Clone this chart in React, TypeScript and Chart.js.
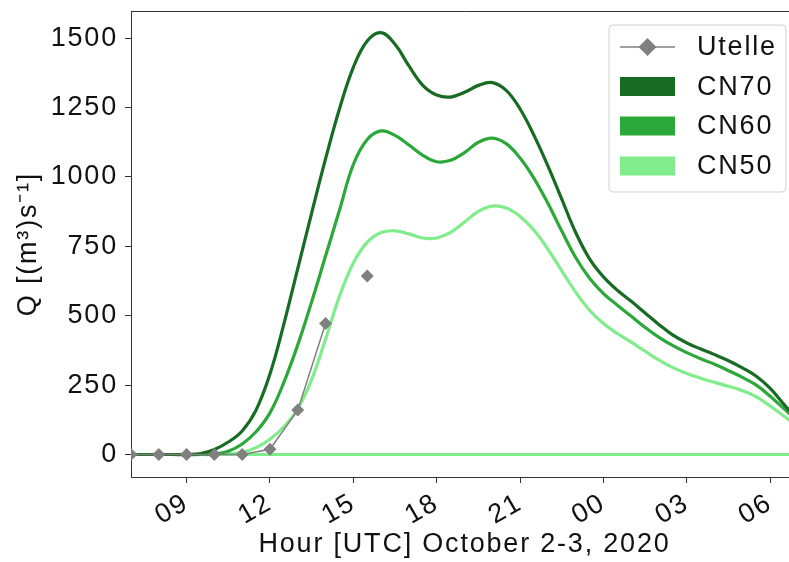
import React, { useEffect, useRef } from 'react';
import { Chart, registerables } from 'chart.js';

Chart.register(...registerables);

// ---- data ----
const HOURS = [7, 7.5, 8, 8.5, 9, 9.5, 10, 10.5, 11, 11.5, 12, 12.5, 13, 13.5, 14, 14.5, 15, 15.5, 16, 16.5, 17, 17.5, 18, 18.5, 19, 19.5, 20, 20.5, 21, 21.5, 22, 22.5, 23, 23.5, 24, 24.5, 25, 25.5, 26, 26.5, 27, 27.5, 28, 28.5, 29, 29.5, 30, 30.5, 31];
const CN70 = [0, 0, 0, 0, 0, 3, 18, 45, 85, 160, 290, 470, 670, 870, 1065, 1245, 1395, 1490, 1520, 1478, 1400, 1330, 1295, 1288, 1305, 1330, 1340, 1312, 1245, 1150, 1040, 920, 800, 705, 640, 592, 552, 510, 468, 430, 402, 380, 360, 338, 312, 282, 238, 180, 120];
const CN60 = [0, 0, 0, 0, 0, 0, 2, 12, 38, 82, 150, 260, 395, 550, 715, 880, 1045, 1135, 1166, 1150, 1115, 1078, 1055, 1060, 1088, 1125, 1140, 1120, 1068, 995, 905, 805, 710, 635, 580, 538, 498, 458, 422, 392, 367, 345, 325, 302, 278, 250, 210, 165, 120];
const CN50 = [0, 0, 0, 0, 0, 0, 0, 2, 8, 25, 55, 100, 165, 270, 415, 570, 690, 765, 800, 806, 795, 780, 780, 800, 838, 876, 895, 888, 858, 808, 740, 662, 585, 520, 472, 436, 405, 372, 340, 313, 292, 275, 260, 246, 230, 208, 175, 138, 100];
const UTELLE_HOURS = [7, 8, 9, 10, 11, 12, 13, 14, 15, 15.5];
const UTELLE = [0, 0, 0, 0, 0, 19, 160, 472, null, 643];
const ZERO_HOURS = [7, 31];
const ZERO_LINE = [0, 0];
const X_TICKS = [9, 12, 15, 18, 21, 24, 27, 30];
const Y_TICKS = [0, 250, 500, 750, 1000, 1250, 1500];
const SERIES_NAMES = ['Utelle', 'CN70', 'CN60', 'CN50'];
const X_TITLE = 'Hour [UTC] October 2-3, 2020';
const Y_TITLE = 'Q [(m\u00B3)s\u207B\u00B9]';

const C70 = '#186b22';
const C60 = '#2ca83a';
const C50 = '#80ec8b';
const CGRAY = '#808080';
const FONT = '"Liberation Sans", Arial, sans-serif';
const FSIZE = 27;
const SPACING = '1.8px';

const toXY = (xs: number[], ys: (number | null)[]) => xs.map((x, i) => ({ x, y: ys[i] }));

const spacingPlugin = {
  id: 'spacing',
  beforeLayout(chart: any) { chart.ctx.letterSpacing = SPACING; },
  beforeDraw(chart: any) { chart.ctx.letterSpacing = SPACING; },
};

const framePlugin = {
  id: 'frame',
  afterDatasetsDraw(chart: any) {
    const { ctx, chartArea } = chart;
    ctx.save();
    ctx.strokeStyle = '#333';
    ctx.lineWidth = 1;
    ctx.beginPath();
    ctx.moveTo(chartArea.left, chartArea.top + 0.5);
    ctx.lineTo(chartArea.right + 0.5, chartArea.top + 0.5);
    ctx.lineTo(chartArea.right + 0.5, chartArea.bottom);
    ctx.stroke();
    ctx.restore();
  },
};

const legendPlugin = {
  id: 'customLegend',
  afterDraw(chart: any) {
    const ctx = chart.ctx;
    const x0 = 609, y0 = 25, w = 177, h = 167, r = 4;
    ctx.save();
    ctx.letterSpacing = SPACING;
    ctx.beginPath();
    ctx.moveTo(x0 + r, y0);
    ctx.arcTo(x0 + w, y0, x0 + w, y0 + h, r);
    ctx.arcTo(x0 + w, y0 + h, x0, y0 + h, r);
    ctx.arcTo(x0, y0 + h, x0, y0, r);
    ctx.arcTo(x0, y0, x0 + w, y0, r);
    ctx.closePath();
    ctx.fillStyle = 'rgba(255,255,255,0.85)';
    ctx.fill();
    ctx.strokeStyle = '#d0d0d0';
    ctx.lineWidth = 1;
    ctx.stroke();

    const ys = [47, 86.5, 126, 166];
    const colors = [CGRAY, C70, C60, C50];
    const px0 = 620, px1 = 675;
    ctx.strokeStyle = CGRAY;
    ctx.lineWidth = 1.5;
    ctx.beginPath();
    ctx.moveTo(px0, ys[0]);
    ctx.lineTo(px1, ys[0]);
    ctx.stroke();
    const cx = (px0 + px1) / 2, rr = 9;
    ctx.fillStyle = CGRAY;
    ctx.beginPath();
    ctx.moveTo(cx - rr, ys[0]);
    ctx.lineTo(cx, ys[0] - rr);
    ctx.lineTo(cx + rr, ys[0]);
    ctx.lineTo(cx, ys[0] + rr);
    ctx.closePath();
    ctx.fill();
    for (let i = 1; i < 4; i++) {
      ctx.fillStyle = colors[i];
      ctx.fillRect(px0, ys[i] - 9.5, px1 - px0, 19);
    }
    ctx.fillStyle = '#111';
    ctx.font = `${FSIZE}px ${FONT}`;
    ctx.textAlign = 'left';
    ctx.textBaseline = 'middle';
    SERIES_NAMES.forEach((name, i) => ctx.fillText(name, 697, ys[i] + 1));
    ctx.restore();
  },
};

const zeroPadding = (scale: any) => {
  scale.paddingTop = 0;
  scale.paddingBottom = 0;
  scale.paddingLeft = 0;
  scale.paddingRight = 0;
};

export default function App() {
  const ref = useRef<HTMLCanvasElement | null>(null);

  useEffect(() => {
    const canvas = ref.current;
    if (!canvas) return;
    const curve = (label: string, ys: number[], color: string) => ({
      label,
      data: toXY(HOURS, ys),
      borderColor: color,
      borderWidth: 3.2,
      pointRadius: 0,
      tension: 0.4,
    });
    const chart = new Chart(canvas, {
      type: 'line',
      data: {
        datasets: [
          {
            label: 'Utelle',
            data: toXY(UTELLE_HOURS, UTELLE),
            borderColor: CGRAY,
            backgroundColor: CGRAY,
            borderWidth: 1.5,
            pointStyle: 'rectRot',
            pointRadius: 6.5,
            pointBorderWidth: 0,
            pointBackgroundColor: CGRAY,
            spanGaps: false,
            tension: 0,
          },
          curve('CN70', CN70, C70),
          curve('CN60', CN60, C60),
          curve('CN50', CN50, C50),
          {
            label: 'zero',
            data: toXY(ZERO_HOURS, ZERO_LINE),
            borderColor: C50,
            borderWidth: 3.2,
            pointRadius: 0,
          },
        ],
      },
      options: {
        animation: false,
        responsive: false,
        maintainAspectRatio: false,
        devicePixelRatio: 1,
        layout: { autoPadding: false, padding: { left: 0, top: 11, right: 22, bottom: 0 } },
        plugins: {
          legend: { display: false },
          tooltip: { enabled: false },
        },
        scales: {
          x: {
            type: 'linear',
            min: 7,
            max: 31,
            afterBuildTicks: (scale: any) => { scale.ticks = X_TICKS.map((v) => ({ value: v })); },
            afterFit: (scale: any) => { scale.height = 85; zeroPadding(scale); },
            ticks: {
              autoSkip: false,
              maxRotation: 30,
              minRotation: 30,
              padding: 4,
              color: '#111',
              font: { family: FONT, size: FSIZE, lineHeight: 1.2 },
              callback: (v: any) => String(Number(v) % 24).padStart(2, '0'),
            },
            grid: { drawOnChartArea: false, drawTicks: true, tickLength: 6, color: '#333', tickColor: '#333' },
            border: { display: true, color: '#333', width: 1 },
            title: {
              display: true,
              text: X_TITLE,
              color: '#111',
              font: { family: FONT, size: FSIZE, lineHeight: 1.2 },
              padding: { top: 0, bottom: 1 },
            },
          },
          y: {
            type: 'linear',
            min: -81,
            max: 1598,
            afterBuildTicks: (scale: any) => { scale.ticks = Y_TICKS.map((v) => ({ value: v })); },
            afterFit: (scale: any) => { scale.width = 131; zeroPadding(scale); },
            ticks: {
              padding: 7,
              color: '#111',
              font: { family: FONT, size: FSIZE, lineHeight: 1.2 },
              callback: (v: any) => String(v),
            },
            grid: { drawOnChartArea: false, drawTicks: true, tickLength: 6, color: '#333', tickColor: '#333' },
            border: { display: true, color: '#333', width: 1 },
            title: {
              display: true,
              text: Y_TITLE,
              color: '#111',
              font: { family: FONT, size: FSIZE, lineHeight: 1.2 },
              padding: { top: 12, bottom: 0 },
            },
          },
        },
      },
      plugins: [spacingPlugin, framePlugin, legendPlugin],
    } as any);
    return () => chart.destroy();
  }, []);

  return (
    <div style={{ position: 'fixed', left: 0, top: 0, width: 789, height: 562, overflow: 'hidden', background: '#fff' }}>
      <canvas ref={ref} width={820} height={562} style={{ display: 'block', width: 820, height: 562 }} />
    </div>
  );
}
